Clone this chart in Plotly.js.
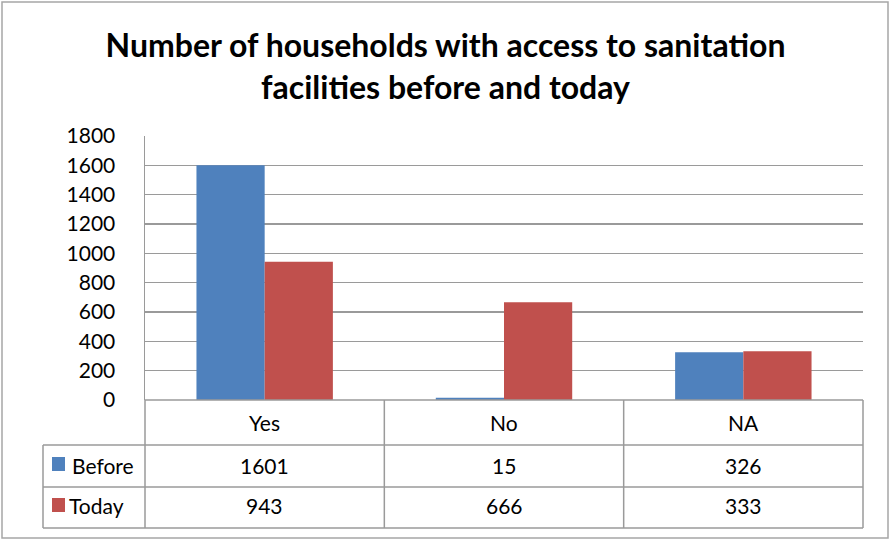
<!DOCTYPE html>
<html>
<head>
<meta charset="utf-8">
<script src="https://cdn.plot.ly/plotly-3.0.1.min.js"></script>
<style>
html,body{margin:0;padding:0;background:#fff;}
#chart{width:891px;height:541px;}
</style>
</head>
<body>
<div id="chart"></div>
<script>
const categories = ['Yes', 'No', 'NA'];
const seriesNames = ['Before', 'Today'];
const beforeValues = [1601, 15, 326];
const todayValues = [943, 666, 333];
const yTicks = [0, 200, 400, 600, 800, 1000, 1200, 1400, 1600, 1800];

const colors = ['#4F81BD', '#C0504D'];
const lineCol = '#9a9a9a';
const FONT = 'Lato, "Open Sans", sans-serif';

// plot area in pixels
const W = 891, H = 541;
const PL = 145, PR = 863, PT = 136, PB = 400;
const px = x => (x - PL) / (PR - PL);
const py = y => (PB - y) / (PB - PT);

const idx = categories.map((c, i) => i);

const traces = [
  {type: 'bar', name: seriesNames[0], x: idx, y: beforeValues, marker: {color: colors[0]}, hoverinfo: 'y'},
  {type: 'bar', name: seriesNames[1], x: idx, y: todayValues, marker: {color: colors[1]}, hoverinfo: 'y'}
];

const shapes = [];
const annotations = [];
function hline(x0, x1, y, xref) {
  shapes.push({type: 'line', xref: xref || 'paper', yref: 'paper', x0: x0, x1: x1, y0: y, y1: y, line: {color: lineCol, width: 1.5}});
}
function vline(x, y0, y1, xref) {
  shapes.push({type: 'line', xref: xref || 'paper', yref: 'paper', x0: x, x1: x, y0: y0, y1: y1, line: {color: lineCol, width: 1.5}});
}

// outer chart border
shapes.push({type: 'rect', xref: 'paper', yref: 'paper', x0: px(2), x1: px(888), y0: py(2), y1: py(538), line: {color: '#a6a6a6', width: 1.5}, fillcolor: 'rgba(0,0,0,0)'});

// data table
const rowTops = [400, 445, 487, 528];
hline(0, 1, py(rowTops[0]));
hline(px(43), 1, py(rowTops[1]));
hline(px(43), 1, py(rowTops[2]));
hline(px(43), 1, py(rowTops[3]));
vline(0, py(rowTops[0]), py(rowTops[3]));
vline(1, py(rowTops[0]), py(rowTops[3]));
vline(px(43), py(rowTops[1]), py(rowTops[3]));
for (let i = 0; i < categories.length - 1; i++) {
  vline(i + 0.5, py(rowTops[0]), py(rowTops[3]), 'x');
}

const tf = {family: FONT, size: 21, color: '#000'};
const rowCenters = [422, 465, 506];
categories.forEach((c, i) => {
  annotations.push({xref: 'x', yref: 'paper', x: i, y: py(rowCenters[0]), text: c, showarrow: false, font: tf, xanchor: 'center', yanchor: 'middle'});
  annotations.push({xref: 'x', yref: 'paper', x: i, y: py(rowCenters[1]), text: String(beforeValues[i]), showarrow: false, font: tf, xanchor: 'center', yanchor: 'middle'});
  annotations.push({xref: 'x', yref: 'paper', x: i, y: py(rowCenters[2]), text: String(todayValues[i]), showarrow: false, font: tf, xanchor: 'center', yanchor: 'middle'});
});
// legend keys in table
[[457, 471], [498, 512]].forEach((r, k) => {
  shapes.push({type: 'rect', xref: 'paper', yref: 'paper', x0: px(52), x1: px(65), y0: py(r[0]), y1: py(r[1]), fillcolor: colors[k], line: {width: 0}});
  annotations.push({xref: 'paper', yref: 'paper', x: px(k === 0 ? 70 : 67), y: py(rowCenters[k + 1]), text: seriesNames[k], showarrow: false, font: tf, xanchor: 'left', yanchor: 'middle'});
});

const layout = {
  width: W, height: H,
  margin: {l: PL, r: W - PR, t: PT, b: H - PB, pad: 0},
  paper_bgcolor: '#fff', plot_bgcolor: '#fff',
  showlegend: false,
  barmode: 'group', bargap: 0.43, bargroupgap: 0,
  title: {
    text: 'Number of households with access to sanitation<br>facilities before and today',
    font: {family: FONT, size: 32, color: '#000', weight: 'bold'},
    x: 0.5, xanchor: 'center', xref: 'container',
    y: 1 - 57 / H, yanchor: 'middle', yref: 'container'
  },
  xaxis: {
    range: [-0.5, categories.length - 0.5],
    showticklabels: false, showgrid: false, zeroline: false, showline: false, ticks: '', fixedrange: true
  },
  yaxis: {
    range: [0, 1800], tickvals: yTicks, ticktext: yTicks.map(String),
    showgrid: true, gridcolor: lineCol, gridwidth: 1.5,
    showline: true, linecolor: lineCol, linewidth: 1.5,
    zeroline: false, ticks: 'outside', ticklen: 24, tickcolor: 'rgba(0,0,0,0)',
    tickfont: {family: FONT, size: 21, color: '#000'}, fixedrange: true
  },
  shapes: shapes,
  annotations: annotations
};

Plotly.newPlot('chart', traces, layout, {displayModeBar: false, staticPlot: true});
</script>
</body>
</html>
